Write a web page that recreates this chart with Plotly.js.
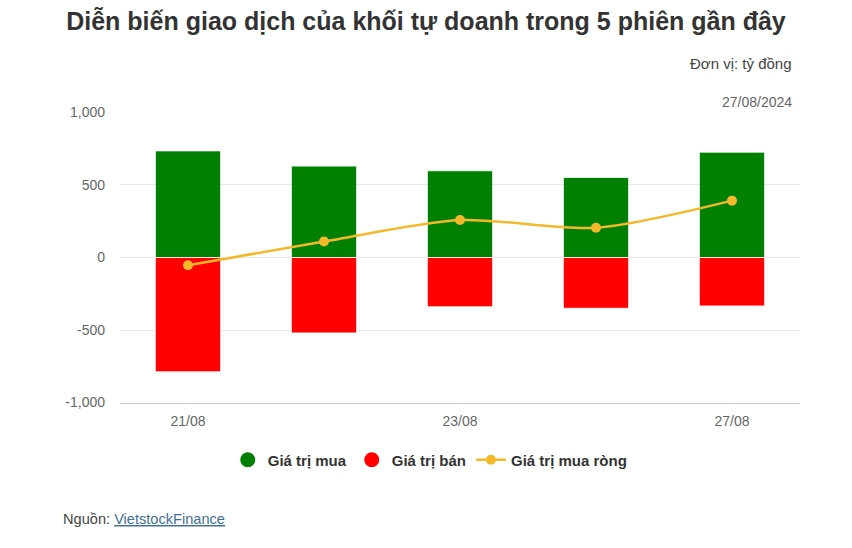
<!DOCTYPE html>
<html>
<head>
<meta charset="utf-8">
<script src="https://cdn.plot.ly/plotly-3.0.1.min.js"></script>
<style>
  html, body { margin: 0; padding: 0; background: #fff; }
  #chart { width: 852px; height: 548px; }
</style>
</head>
<body>
<div id="chart"></div>
<script>
// Dữ liệu 5 phiên (tỷ đồng)
const sessions = ['21/08', '22/08', '23/08', '26/08', '27/08'];
const buyValues = [735, 630, 598, 552, 726];
const sellValues = [-788, -520, -340, -350, -334];
const netValues = [-53, 110, 258, 205, 392];

const xTickVals = ['21/08', '23/08', '27/08'];
const yTickVals = [-1000, -500, 0, 500, 1000];
const yTickText = ['-1,000', '-500', '0', '500', '1,000'];

const GREEN = '#008000';
const RED = '#ff0000';
const GOLD = '#f4b82b';
const FONT = 'Liberation Sans, Arial, sans-serif';

// Cột mua / bán
const buyTrace = {
    x: sessions, y: buyValues, type: 'bar', name: 'Giá trị mua',
    marker: { color: GREEN, line: { color: 'rgba(255,255,255,0.8)', width: 1 } },
    width: 0.48, showlegend: false, hoverinfo: 'y'
};
const sellTrace = {
    x: sessions, y: sellValues, type: 'bar', name: 'Giá trị bán',
    marker: { color: RED, line: { color: 'rgba(255,255,255,0.8)', width: 1 } },
    width: 0.48, showlegend: false, hoverinfo: 'y'
};
const netTrace = {
    x: sessions, y: netValues, type: 'scatter', mode: 'lines+markers',
    name: '<b>Giá trị mua ròng</b>',
    line: { color: GOLD, width: 2.5, shape: 'spline', smoothing: 0.8 },
    marker: { color: GOLD, size: 10 }
};

// Chú thích dạng chấm tròn cho cột
const buyLegend = {
    x: [null], y: [null], type: 'scatter', mode: 'markers', name: '<b>Giá trị mua</b>',
    marker: { color: GREEN, size: 15, symbol: 'circle' }
};
const sellLegend = {
    x: [null], y: [null], type: 'scatter', mode: 'markers', name: '<b>Giá trị bán</b>',
    marker: { color: RED, size: 15, symbol: 'circle' }
};

const layout = {
    width: 852,
    height: 548,
    margin: { l: 120, r: 52, t: 112, b: 145 },
    paper_bgcolor: '#fff',
    plot_bgcolor: '#fff',
    font: { family: FONT, size: 14, color: '#666' },
    barmode: 'relative',
    bargap: 0.52,
    title: {
        text: '<b>Diễn biến giao dịch của khối tự doanh trong 5 phiên gần đây</b>',
        font: { family: FONT, size: 25, color: '#333' },
        x: 0.5, xref: 'container', xanchor: 'center',
        y: 1 - 21 / 548, yref: 'container', yanchor: 'middle'
    },
    xaxis: {
        type: 'category',
        tickmode: 'array',
        tickvals: xTickVals,
        ticktext: xTickVals,
        showgrid: false,
        showline: true,
        linecolor: '#ccc',
        linewidth: 1,
        ticks: '',
        ticklabelstandoff: 5,
        tickfont: { size: 14, color: '#666' },
        fixedrange: true
    },
    yaxis: {
        range: [-1003, 1003],
        tickmode: 'array',
        tickvals: yTickVals,
        ticktext: yTickText,
        gridcolor: '#e6e6e6',
        gridwidth: 1,
        zeroline: true,
        zerolinecolor: '#e6e6e6',
        zerolinewidth: 1,
        ticks: '',
        ticklabelstandoff: 14,
        tickfont: { size: 14, color: '#666' },
        fixedrange: true
    },
    legend: {
        orientation: 'h',
        xref: 'container', x: 0.505, xanchor: 'center',
        yref: 'container', y: 1 - 460 / 548, yanchor: 'middle',
        font: { family: FONT, size: 15, color: '#333' },
        traceorder: 'normal',
        itemclick: false
    },
    annotations: [
        {
            text: 'Đơn vị: tỷ đồng', xref: 'paper', yref: 'paper',
            x: (794 - 120) / 680, y: (403 - 64) / 291, xanchor: 'right', yanchor: 'middle',
            showarrow: false, font: { size: 15, color: '#444' }
        },
        {
            text: '27/08/2024', xref: 'paper', yref: 'paper',
            x: (794 - 120) / 680, y: (403 - 102) / 291, xanchor: 'right', yanchor: 'middle',
            showarrow: false, font: { size: 14, color: '#666' }
        },
        {
            text: 'Nguồn: <a href="https://finance.vietstock.vn/" style="color:#3f6f96"><u>VietstockFinance</u></a>',
            xref: 'paper', yref: 'paper',
            x: (61 - 120) / 680, y: (403 - 519) / 291, xanchor: 'left', yanchor: 'middle',
            showarrow: false, font: { size: 14.6, color: '#444' }
        }
    ]
};

Plotly.newPlot('chart', [buyTrace, sellTrace, buyLegend, sellLegend, netTrace], layout, { displayModeBar: false, responsive: false });
</script>
</body>
</html>
